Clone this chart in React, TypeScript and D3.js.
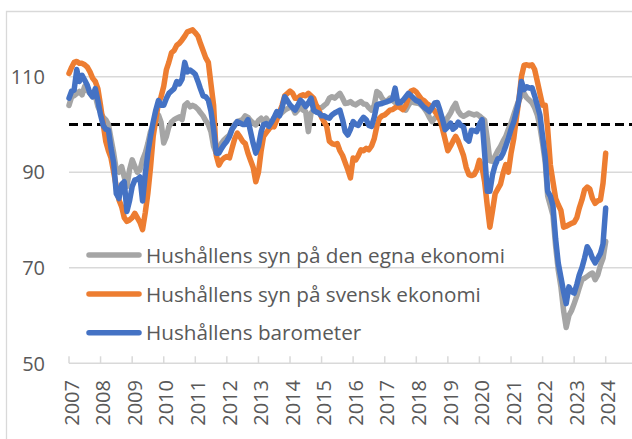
import React from "react";
import * as d3 from "d3";

const START_YEAR = 2007;
const yearTicks = [2007, 2008, 2009, 2010, 2011, 2012, 2013, 2014, 2015, 2016, 2017, 2018, 2019, 2020, 2021, 2022, 2023, 2024];
const yTicks = [50, 70, 90, 110];
const refValue = 100;

const seriesNames = [
  "Hushållens syn på den egna ekonomi",
  "Hushållens syn på svensk ekonomi",
  "Hushållens barometer",
];
const seriesColors = ["#A5A5A5", "#ED7D31", "#4472C4"];

// monthly values Jan 2007 – Jan 2024
const egnaEkonomi = [
  104, 105.8, 106, 106.5, 106.9, 106.2, 108, 107.2, 106.5, 105.8, 106, 103.8,
  102.5, 101.5, 101, 100, 97, 94, 90.5, 90, 91.2, 89, 87, 90.5,
  92.6, 91.2, 90, 90.5, 92.6, 94, 96, 98.5, 100, 102, 102, 100.5,
  96.1, 97.5, 99.5, 100.5, 101, 101.3, 101.6, 101, 104, 104.5, 103.7, 104,
  103.7, 103.2, 102.5, 101.8, 100.8, 100, 98.5, 95.4, 94, 95, 96.1, 96.8,
  97.3, 97.8, 99, 100, 100.6, 100.8, 101, 101.8, 101.5, 100.8, 100.3, 99.9,
  100.8, 101.3, 100.6, 101.3, 100.5, 99.9, 100.5, 101.5, 102, 102.5, 103, 103.3,
  103.6, 103.5, 102.4, 103, 103.6, 103, 102.7, 98.5, 102.4, 103, 103.75, 103.5,
  103.5, 104, 104.4, 105.5, 105.8, 105.5, 106, 106.5, 105.5, 104.4, 104.5, 104.8,
  104.3, 104.1, 104.5, 104.8, 104.3, 104.2, 103.5, 103, 104, 106.9, 106.5, 105.5,
  104.8, 105, 105.5, 105, 104.6, 104.2, 103.9, 103.5, 103, 104, 104.8, 104.6,
  104.5, 104.4, 104, 103.4, 102.6, 101.5, 100.6, 101.3, 101.8, 102, 101.2, 100.6,
  101.5, 102.4, 103.5, 104.4, 102.8, 102, 101.7, 102, 102.4, 102.2, 102, 102.2,
  101.8, 101.3, 100.9, 97, 92.4, 92.3, 93.4, 94.5, 95.4, 96.5, 97.5, 99,
  100.3, 102, 103.5, 105.1, 106, 106.5, 105.6, 105.1, 104.5, 103.5, 102, 99.6,
  96, 92, 85, 83, 81, 74.5, 69.5, 66, 61, 57.5, 60, 61,
  62.5, 64.1, 65.8, 67.5, 67.8, 68.2, 68.6, 68.9, 67.5, 68.5, 70.5, 72,
  75.5,
];

const svenskEkonomi = [
  110.7, 112, 113, 113.2, 112.8, 112.8, 112.5, 112, 111, 109.7, 109, 107.5,
  104, 100, 96.5, 94.5, 93, 90, 87, 84.2, 82.8, 80.5, 79.7, 80,
  80.5, 81.4, 80.5, 79.5, 78, 81.5, 85.5, 91, 97.5, 101, 104.5, 105.8,
  108, 111.5, 113, 115, 115.5, 116.6, 117, 117.7, 118.5, 119.4, 119.6, 119.8,
  119.2, 118.5, 117, 115.5, 114, 113, 108.5, 104, 93.5, 91.5, 92.5, 93,
  93.3, 93, 95, 97, 98.2, 97.4, 96.5, 96, 94, 92.5, 91, 88,
  90, 94.5, 97.5, 98.3, 99, 99.6, 99.5, 101, 102.5, 104, 106, 106.5,
  107, 106.5, 105.5, 105.5, 106, 106.2, 106, 106.5, 106, 105.5, 104, 103,
  101.5, 100.5, 99.6, 96.5, 96, 95.8, 96, 94.5, 93.5, 92, 90.5, 88.8,
  93, 92.6, 93.5, 94.7, 94.5, 95, 94.7, 95.5, 97, 99.6, 101.3, 101.8,
  102, 102.5, 103, 103.1, 103.5, 103.8, 103.5, 103.1, 104, 105.5, 107, 107.2,
  106.8, 106, 105.3, 105, 104.4, 104, 103.5, 102.8, 102, 101, 99, 96.8,
  94.5, 95.5, 96.5, 97.5, 96.5, 95, 93.5, 91, 89.5, 89.3, 89.5, 90.5,
  92.5, 91, 88, 83, 78.5, 82, 85.5, 86.5, 87.5, 89.8, 91.6, 90,
  94, 97, 101, 105, 110, 112.4, 112.5, 112.3, 112.5, 111.5, 109, 106.5,
  104, 104, 99, 91.5, 88, 84.5, 83.2, 82, 78.5, 78.7, 79, 79.3,
  79.5, 80.5, 82.5, 84.2, 86.3, 86.9, 86.5, 84.5, 83.5, 84, 84.2, 87.7,
  94,
];

const barometer = [
  105.5, 107, 107.2, 111.5, 109, 110.3, 109.3, 108.2, 106.5, 105.8, 107.5, 105,
  102, 99.8, 99, 98.8, 95, 92, 85.5, 84.5, 87.5, 88, 81.8, 84,
  87, 88.4, 88.5, 89, 84, 89.5, 94, 97.5, 100.5, 103, 105, 104,
  104, 105.5, 106.5, 107, 107.5, 109, 108.5, 109.5, 113, 111, 111.4, 111,
  110.5, 109, 107.5, 106, 105.8, 105.1, 102.8, 99, 94, 94, 95, 95.8,
  96.5, 97.5, 99, 99.8, 100.6, 100.3, 100, 100, 101, 98.5, 96, 94,
  95.5, 98.5, 100, 100.2, 99.6, 100.5, 101.5, 102.7, 101.8, 103.5, 105.8, 105,
  104.1, 103.5, 103, 104, 105.1, 104.5, 103.75, 104.5, 105.5, 103, 102.6, 102.4,
  101.8, 101.8, 101.5, 101.3, 102, 102.4, 102.7, 103, 101, 98.5, 97.8, 99,
  100.6, 100, 99.8, 100.8, 101.5, 101, 99.8, 99.6, 101.5, 104.1, 104.3, 104.4,
  104.6, 104.8, 105, 105.3, 107.6, 104.5, 104.6, 105.1, 105.8, 106.5, 106, 105.5,
  105, 104.8, 104.2, 103.6, 103.2, 102.7, 103.5, 104.5, 104.6, 103, 101, 98.9,
  99.5, 100.3, 99, 99.5, 100.5, 99.8, 99.5, 97, 96.5, 98.8, 98.7, 98.5,
  100, 101, 94, 86, 86, 89.5, 91.5, 92.8, 93, 94, 95.5, 97.1,
  99, 100.5, 102.5, 105, 109, 107.3, 107.9, 107.6, 107.7, 106, 104, 102,
  97.5, 93, 86, 85, 83, 76, 71, 68, 65, 62.5, 66, 65,
  64.7, 66.5, 68.5, 70, 72, 74.4, 73.5, 72, 71, 72, 73, 75,
  82.5,
];

const allSeries = [egnaEkonomi, svenskEkonomi, barometer];

const W = 632;
const H = 439;
const plotLeft = 69;
const plotRight = 632;
const FONT = "'Open Sans', 'Liberation Sans', sans-serif";
const TEXT_COLOR = "#595959";
const GRID = "#D9D9D9";

export default function App() {
  const x = d3
    .scaleUtc()
    .domain([new Date(Date.UTC(2007, 0, 1)), new Date(Date.UTC(2024, 0, 1))])
    .range([69, 605.7]);
  const y = d3.scaleLinear().domain([50, 110]).range([363.3, 76.7]);

  const dateOf = (i: number) => new Date(Date.UTC(START_YEAR, i, 1));
  const line = d3
    .line<number>()
    .x((_, i) => x(dateOf(i)))
    .y((d) => y(d));

  const legendY = [255, 294, 332.7];

  return (
    <div style={{ position: "fixed", left: 0, top: 0 }}>
      <svg width={W} height={H} style={{ display: "block", background: "#fff" }}>
        <defs>
          <clipPath id="plotclip">
            <rect x={0} y={12} width={W} height={H - 12} />
          </clipPath>
        </defs>
        {/* chart border */}
        <path d={`M6.5,${H} V11.5 H${W}`} fill="none" stroke={GRID} strokeWidth={1.3} />
        {/* gridlines */}
        {yTicks.map((t) => (
          <line
            key={t}
            x1={plotLeft}
            x2={plotRight}
            y1={y(t)}
            y2={y(t)}
            stroke={GRID}
            strokeWidth={1.5}
          />
        ))}
        {/* x tick marks */}
        {yearTicks.map((yr) => {
          const xx = x(new Date(Date.UTC(yr, 0, 1)));
          return (
            <line key={yr} x1={xx} x2={xx} y1={y(50)} y2={y(50) - 7} stroke={GRID} strokeWidth={1.5} />
          );
        })}
        {/* y labels */}
        {yTicks.map((t) => (
          <text
            key={t}
            x={45}
            y={y(t)}
            dy="0.36em"
            textAnchor="end"
            fontFamily={FONT}
            fontSize={20}
            fill={TEXT_COLOR}
          >
            {t}
          </text>
        ))}
        {/* x labels */}
        {yearTicks.map((yr) => {
          const xx = x(new Date(Date.UTC(yr, 0, 1))) + 2.5;
          return (
            <text
              key={yr}
              transform={`translate(${xx},380) rotate(-90)`}
              textAnchor="end"
              dy="0.36em"
              fontFamily={FONT}
              fontSize={20}
              fill={TEXT_COLOR}
            >
              {yr}
            </text>
          );
        })}
        {/* reference line */}
        <line
          x1={plotLeft}
          x2={plotRight}
          y1={y(refValue)}
          y2={y(refValue)}
          stroke="#000"
          strokeWidth={3}
          strokeDasharray="9 5"
        />
        {/* series */}
        <g clipPath="url(#plotclip)">
          {allSeries.map((s, k) => (
            <path
              key={k}
              d={line(s) || ""}
              fill="none"
              stroke={seriesColors[k]}
              strokeWidth={5.5}
              strokeLinejoin="round"
              strokeLinecap="round"
            />
          ))}
        </g>
        {/* legend */}
        {seriesNames.map((name, k) => (
          <g key={name}>
            <line
              x1={89}
              x2={139}
              y1={legendY[k]}
              y2={legendY[k]}
              stroke={seriesColors[k]}
              strokeWidth={5.5}
              strokeLinecap="round"
            />
            <text
              x={146}
              y={legendY[k] + 7.5}
              fontFamily={FONT}
              fontSize={20.7}
              fill={TEXT_COLOR}
            >
              {name}
            </text>
          </g>
        ))}
      </svg>
    </div>
  );
}
